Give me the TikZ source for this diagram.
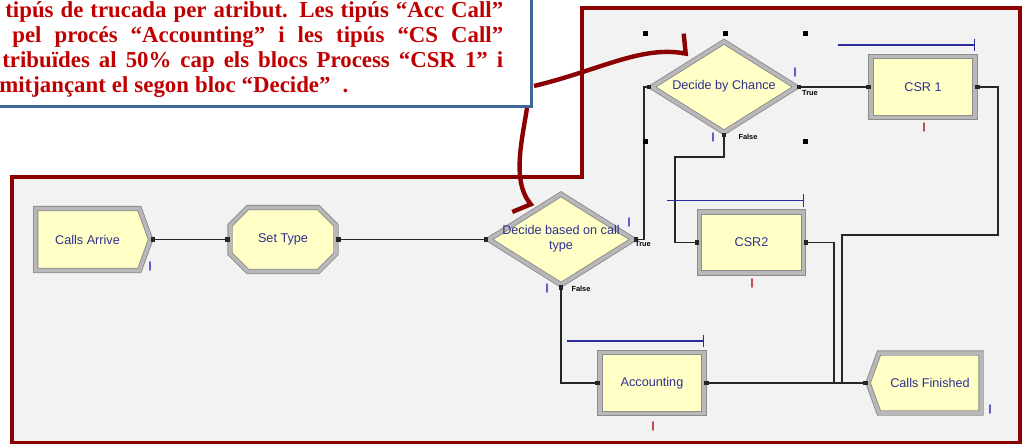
\documentclass[tikz,border=0pt]{standalone}
\usepackage{fontspec}
\setmainfont{Liberation Serif}
\setsansfont{Liberation Sans}
\usetikzlibrary{arrows.meta,calc,shapes.geometric,shapes.misc,shapes.symbols}
\definecolor{arred}{HTML}{8B0000}
\definecolor{artext}{HTML}{C00000}
\definecolor{arblue}{HTML}{3E6697}
\definecolor{modfill}{HTML}{FFFFC6}
\definecolor{modtxt}{HTML}{2E3192}
\definecolor{bggray}{HTML}{F2F2F2}
\definecolor{qblue}{HTML}{2B2BA0}
\definecolor{cntblue}{HTML}{6A5ACD}
\definecolor{cntred}{HTML}{C05050}

\begin{document}
\begin{tikzpicture}[x=0.02cm, y=-0.02cm,
  module/.style={draw=black!45, double=black!28, double distance=2pt,
                 line width=0.5pt, fill=modfill, inner sep=0pt, align=center,
                 font=\sffamily\fontsize{7.2}{8.4}\selectfont, text=modtxt},
  process/.style={module, rectangle, minimum width=2.08cm, minimum height=1.22cm},
  decide/.style={module, diamond, minimum width=2.9cm, minimum height=1.82cm},
  create/.style={module, signal, signal to=east, signal pointer angle=140,
                 minimum width=2.3cm, minimum height=1.24cm},
  dispose/.style={module, signal, signal to=west, signal pointer angle=140,
                  minimum width=2.26cm, minimum height=1.2cm},
  assign/.style={module, chamfered rectangle, chamfered rectangle xsep=0.24cm,
                 chamfered rectangle ysep=0.24cm, minimum width=2.12cm, minimum height=1.28cm},
  modtext/.style={font=\sffamily\fontsize{7.2}{8.4}\selectfont, text=modtxt, align=center, inner sep=0pt},
  conn/.style={line width=0.6pt, black!85,
               {Square[length=2.4pt,width=2.4pt]}-{Square[length=2.4pt,width=2.4pt]}},
  queue/.style={line width=0.8pt, qblue, -{Bar[width=7pt]}},
  cnt/.style={line width=1.1pt, line cap=round},
  tf/.style={font=\sffamily\bfseries\fontsize{4.2}{5}\selectfont, inner sep=0pt},
  callout/.style={line width=2.5pt, arred, -{Straight Barb[harpoon,length=3pt,width=22pt]}},
  txtline/.style={anchor=base west, inner sep=0pt, text=artext,
                  font=\fontsize{13}{15}\selectfont\bfseries},
]
\clip (0,0) rectangle (1023,443);
\fill[white] (0,0) rectangle (1023,443);

%% ---- submodel area ----
\draw[line width=2.7pt, arred, fill=bggray]
  (12,177) -- (582,177) -- (582,8) -- (1020,8) -- (1020,443) -- (12,443) -- cycle;

%% ---- modules ----
\node[create]  (arrive) at (87.5,239.5) {Calls Arrive};
\node[assign]  (settype) at (283,239.5) {Set Type};
\node[decide]  (dbt)    at (561,239.5) {};
\node[modtext] (dbt-t)  at (561,239)   {Decide based on call\\type};
\node[decide]  (dbc)    at (724,87)    {};
\node[modtext] (dbc-t)  at (724,86)    {Decide by Chance};
\node[process] (csr1)   at (923,87)    {CSR 1};
\node[process] (csr2)   at (751.5,242.5) {CSR2};
\node[process] (acct)   at (652,383)   {Accounting};
\node[dispose] (finish) at (930,383)   {Calls Finished};

%% ---- true / false exits ----
\node[tf] (dbt-true)  at (643,244) {True};
\node[tf] (dbt-false) at (581,289) {False};
\node[tf] (dbc-true)  at (810,93)  {True};
\node[tf] (dbc-false) at (748,137) {False};

%% ---- connectors ----
\coordinate (b1) at (644,87);
\coordinate (b2) at (675,157);
\coordinate (b3) at (834,383);
\coordinate (b4) at (998,235);
\coordinate (b5) at (842,383);
\draw[conn] (arrive.east) -- (settype.west);
\draw[conn] (settype.east) -- (dbt.west);
\draw[conn] (dbt.east) -| (b1) -- (dbc.west);
\draw[conn] (dbt.south) |- (acct.west);
\draw[conn] (dbc.east) -- (csr1.west);
\draw[conn] (dbc.south) |- (b2) |- (csr2.west);
\draw[conn] (acct.east) -- (finish.west);
\draw[conn] (csr2.east) -| (b3) -- (finish.west);
\draw[conn] (csr1.east) -| (b4) -| (b5) -- (finish.west);

%% ---- resource queues ----
\foreach \p in {csr1,csr2,acct}
  \draw[queue] ([xshift=-2.74cm,yshift=0.22cm]\p.north east)
    -- ([yshift=0.22cm]\p.north east);

%% ---- counters ----
\foreach \x/\y in {150/262, 629/218, 547/284, 795/68, 713/133, 990/405}
  \draw[cnt, cntblue] (\x,\y) -- (\x,\y+8);
\foreach \x/\y in {924/123, 752/279, 653/422}
  \draw[cnt, cntred] (\x,\y) -- (\x,\y+8);

%% ---- selection handles ----
\foreach \x/\y in {645/33, 725/33, 805/33, 645/141, 805/141}
  \fill[black] (\x-2.5,\y-2.5) rectangle (\x+2.5,\y+2.5);

%% ---- note ----
\node[draw=arblue, line width=1.7pt, fill=white, minimum width=10.9cm,
      minimum height=2.4cm, anchor=south east] (note) at (533,108) {};
\node[txtline] (l1) at (5,17)
  {\makebox[9.96cm][s]{tipús de trucada per atribut. Les tipús “Acc Call”}};
\node[txtline] (l2) at (12,42)
  {\makebox[9.82cm][s]{pel procés “Accounting” i les tipús “CS Call”}};
\node[txtline] (l3) at (2,67)
  {\makebox[10.02cm][s]{tribuïdes al 50\% cap els blocs Process “CSR 1” i}};
\node[txtline] (l4) at (-1,92)
  {\makebox[6.98cm][s]{mitjançant el segon bloc “Decide”\ \ .}};

%% ---- callout arrows ----
\draw[callout] ($(note.south east)+(1,-22)$)
  .. controls (600,70) and (640,46) .. ($(dbc.north west)+(1,-10)$);
\draw[callout, -{Straight Barb[harpoon,swap,length=3pt,width=22pt]}]
  ($(note.south east)+(-6,0)$)
  .. controls (522,140) and (512,180) .. ($(dbt.north west)+(8,-10)$);

\end{tikzpicture}
\end{document}
